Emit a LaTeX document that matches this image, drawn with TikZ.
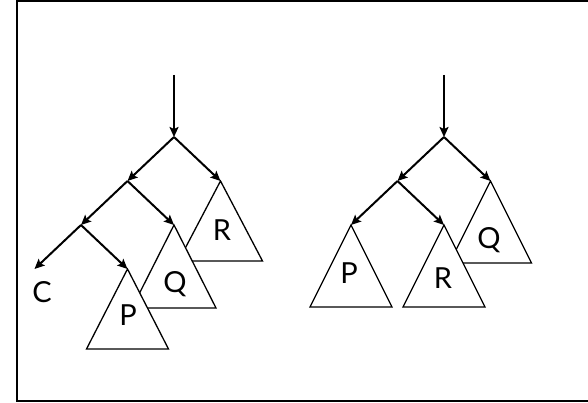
\documentclass[tikz,border=0pt]{standalone}
\usepackage{fontspec}
\setmainfont{Lato}
\usetikzlibrary{arrows.meta}
\begin{document}
\begin{tikzpicture}[
x=1pt,y=-1pt,
level distance=44pt,
sibling distance=93pt,
edge from parent/.style={draw,line width=2pt,-{Stealth[length=10pt,width=9pt,inset=2pt]}},
arr/.style={line width=2pt,-{Stealth[length=10pt,width=9pt,inset=2pt]}},
tri/.style={draw,fill=white,line width=1.3pt,line join=miter},
lbl/.style={font=\fontsize{29}{34}\selectfont,inner sep=0pt}
]
\useasboundingbox (0,0) rectangle (588,403);
\draw[line width=2pt] (590,1) -- (17,1) -- (17,401) -- (590,401);
% left tree
\coordinate (ltop) at (174,75);
\coordinate (l0) at (174,137)
child{
	coordinate(l1)
	child{
		coordinate(l2)
		child{coordinate(c)}
		child{coordinate(lp)}
	}
	child{coordinate(lq)}
}
child{coordinate(lr)};
\draw[arr] (ltop)--(l0);
\draw[tri] (lr) -- ++(-42,80) -- ++(84,0) -- cycle;
\draw[tri] (lq) -- ++(-42,83) -- ++(84,0) -- cycle;
\draw[tri] (lp) -- ++(-41,80) -- ++(82,0) -- cycle;
\node[lbl] (cl) at (42,292) {C};
\node[lbl] (rl) at (222,230) {R};
\node[lbl] (ql) at (175,284) {Q};
\node[lbl] (pl) at (128,315) {P};
% right tree
\coordinate (rtop) at (444,75);
\coordinate (r0) at (444,137)
child{
	coordinate(r1)
	child{coordinate(rp)}
	child{coordinate(rr)}
}
child{coordinate(rq)};
\draw[arr] (rtop)--(r0);
\draw[tri] (rq) -- ++(-41,82) -- ++(82,0) -- cycle;
\draw[tri] (rr) -- ++(-41,82) -- ++(82,0) -- cycle;
\draw[tri] (rp) -- ++(-41,82) -- ++(82,0) -- cycle;
\node[lbl] (rql) at (489,240) {Q};
\node[lbl] (rpl) at (349,273) {P};
\node[lbl] (rrl) at (443,278) {R};
\end{tikzpicture}
\end{document}
